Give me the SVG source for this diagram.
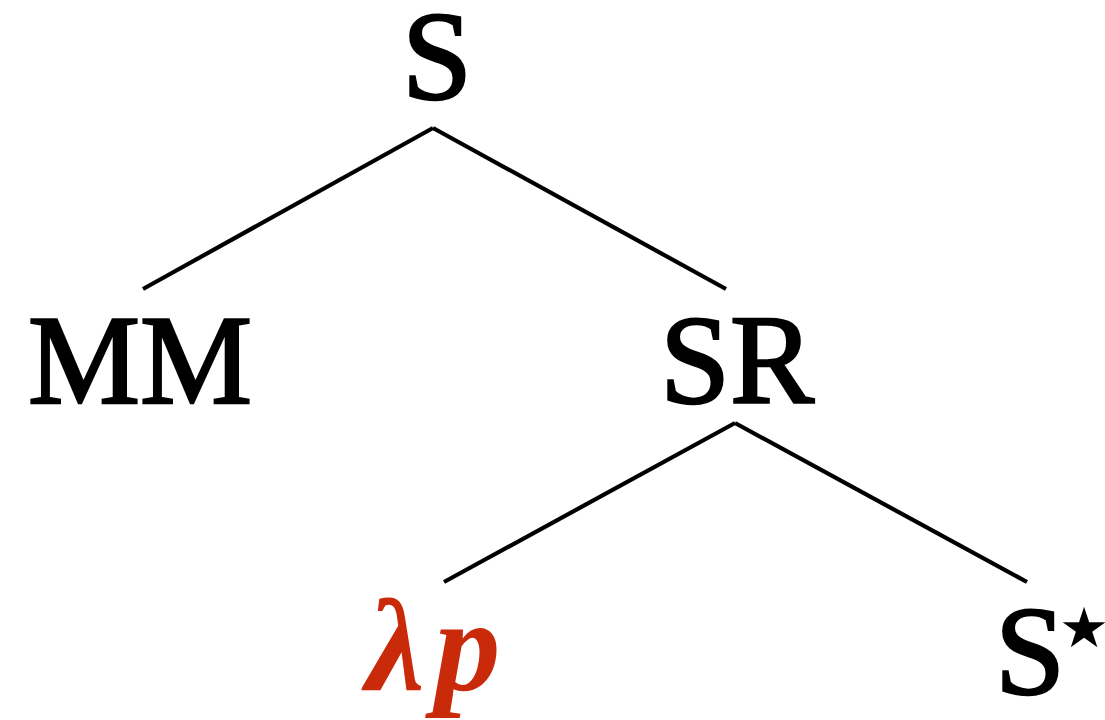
<svg xmlns="http://www.w3.org/2000/svg" width="1105" height="720" viewBox="0 0 1105 720">
  <style>
    .lbl { font-family: "Liberation Serif", "Times New Roman", serif; font-size: 126px; fill: #000; stroke: #000; stroke-width: 2.5; text-anchor: middle; }
    .var { font-family: "Liberation Serif", "Times New Roman", serif; font-size: 132px; font-weight: bold; font-style: italic; fill: #c92a0a; }
    .star { font-family: "DejaVu Sans", sans-serif; font-size: 112px; stroke: none; }
    .edge { stroke: #000; stroke-width: 4.2; fill: none; stroke-linecap: butt; }
  </style>
  <rect width="1105" height="720" fill="#fff"/>
  <g id="connectors">
    <line class="edge" x1="433" y1="128" x2="143" y2="289"/>
    <line class="edge" x1="433" y1="128" x2="726" y2="289"/>
    <line class="edge" x1="735" y1="423" x2="444" y2="582"/>
    <line class="edge" x1="735" y1="423" x2="1027" y2="582"/>
  </g>
  <g id="node-S">
    <text class="lbl" x="437" y="99">S</text>
  </g>
  <g id="node-MM">
    <text class="lbl" x="140" y="403">MM</text>
  </g>
  <g id="node-SR">
    <text class="lbl" x="737" y="403">SR</text>
  </g>
  <g id="node-lambda">
    <text class="var" x="366" y="690">λ<tspan dx="10">p</tspan></text>
  </g>
  <g id="node-Sstar">
    <text class="lbl" x="1030" y="694">S<tspan class="star" x="1084" y="664">⋆</tspan></text>
  </g>
</svg>
